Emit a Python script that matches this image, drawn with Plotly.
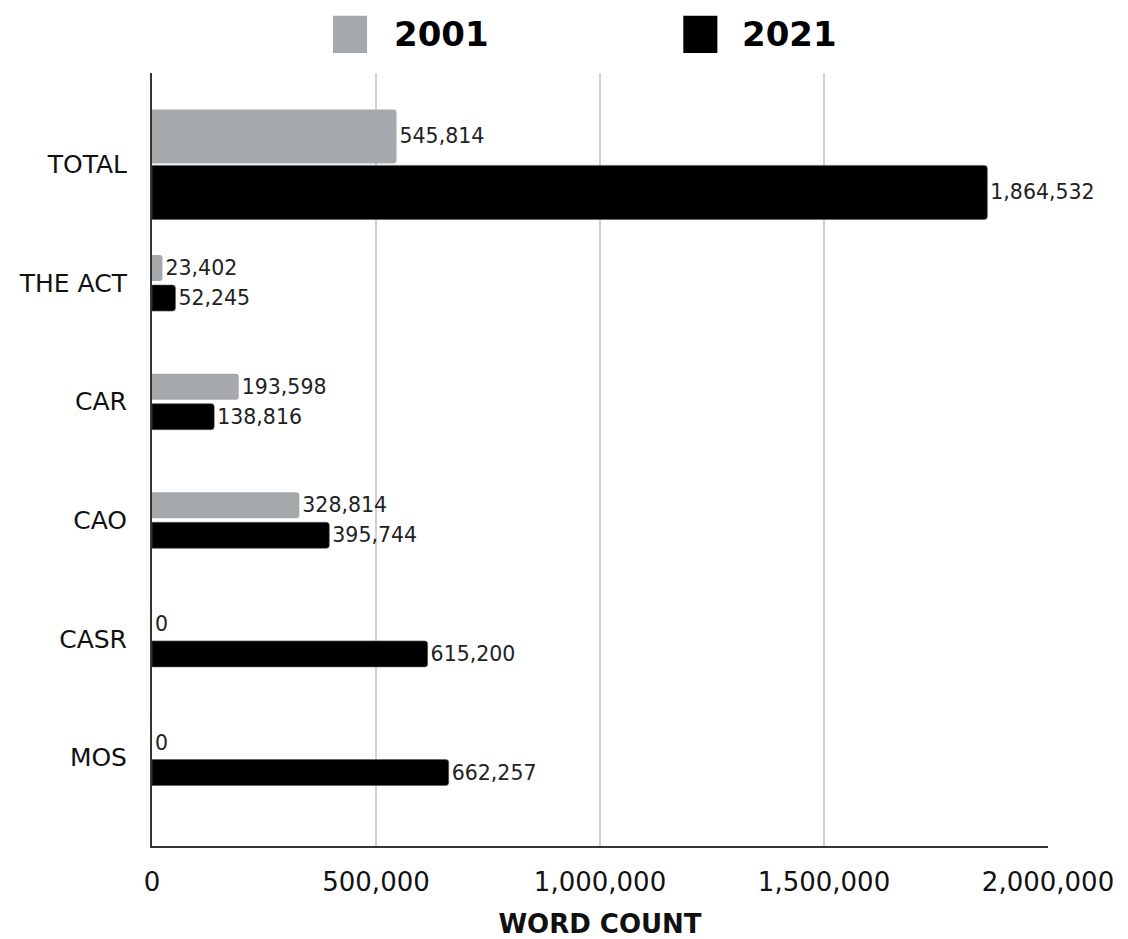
import plotly.graph_objects as go

categories = ["TOTAL", "THE ACT", "CAR", "CAO", "CASR", "MOS"]
series_names = ["2001", "2021"]
values_2001 = [545814, 23402, 193598, 328814, 0, 0]
values_2021 = [1864532, 52245, 138816, 395744, 615200, 662257]
x_tick_values = [0, 500000, 1000000, 1500000, 2000000]
x_tick_labels = ["0", "500,000", "1,000,000", "1,500,000", "2,000,000"]

GRAY = "#a6a9ab"
BLACK = "#000000"
FONT = "DejaVu Sans"

# bar geometry (category units): TOTAL bars are thicker
def geom(first):
    offs, wids = [], []
    for c in categories:
        if c == "TOTAL":
            offs.append(-0.464 if first else 0.008)
            wids.append(0.456)
        else:
            offs.append(-0.236 if first else 0.017)
            wids.append(0.219)
    return offs, wids

o1, w1 = geom(True)
o2, w2 = geom(False)

fig = go.Figure()
fig.add_trace(go.Bar(
    name=series_names[0], y=categories, x=values_2001, orientation="h",
    offset=o1, width=w1,
    marker=dict(color=GRAY, cornerradius=3, line=dict(width=0)),
    text=[f"{v:,}" for v in values_2001], textposition="outside",
    textfont=dict(family=FONT, size=20.5, color="#222"),
    constraintext="none", cliponaxis=False, showlegend=False,
))
fig.add_trace(go.Bar(
    name=series_names[1], y=categories, x=values_2021, orientation="h",
    offset=o2, width=w2,
    marker=dict(color=BLACK, cornerradius=3, line=dict(width=0.6, color="#555")),
    text=[f"{v:,}" for v in values_2021], textposition="outside",
    textfont=dict(family=FONT, size=20.5, color="#222"),
    constraintext="none", cliponaxis=False, showlegend=False,
))

# custom legend (large square swatches)
legend_items = [(series_names[0], GRAY, 0.202, 0.268), (series_names[1], BLACK, 0.593, 0.656)]
for name, col, sx, tx in legend_items:
    fig.add_shape(type="rect", xref="paper", yref="paper",
                  x0=sx, x1=sx + 0.038, y0=1.026, y1=1.074,
                  fillcolor=col, line=dict(width=0))
    fig.add_annotation(xref="paper", yref="paper", x=tx, y=1.050,
                       xanchor="left", yanchor="middle", showarrow=False,
                       text=f"<b>{name}</b>",
                       font=dict(family=FONT, size=34, color="#000"))

fig.update_layout(
    width=1128, height=939,
    margin=dict(l=152, r=80, t=73, b=93),
    plot_bgcolor="white", paper_bgcolor="white",
    barmode="overlay",
    font=dict(family=FONT, color="#111"),
    xaxis=dict(
        range=[0, 2000000], tickvals=x_tick_values, ticktext=x_tick_labels,
        showgrid=True, gridcolor="#d0d0d0", gridwidth=1.5,
        zeroline=False, showline=True, linecolor="#333", linewidth=2,
        ticks="", ticklabelstandoff=12, automargin=False,
        tickfont=dict(family=FONT, size=26, color="#111"),
        title=dict(text="<b>WORD COUNT</b>", standoff=26,
                   font=dict(family=FONT, size=26, color="#111")),
    ),
    yaxis=dict(
        type="category", categoryorder="array", categoryarray=categories,
        range=[5.746, -0.771], automargin=False,
        showgrid=False, zeroline=False, showline=True, linecolor="#333", linewidth=2,
        ticks="", ticklabelstandoff=18,
        tickfont=dict(family=FONT, size=25, color="#111"),
    ),
)

fig.write_html("out.html")
